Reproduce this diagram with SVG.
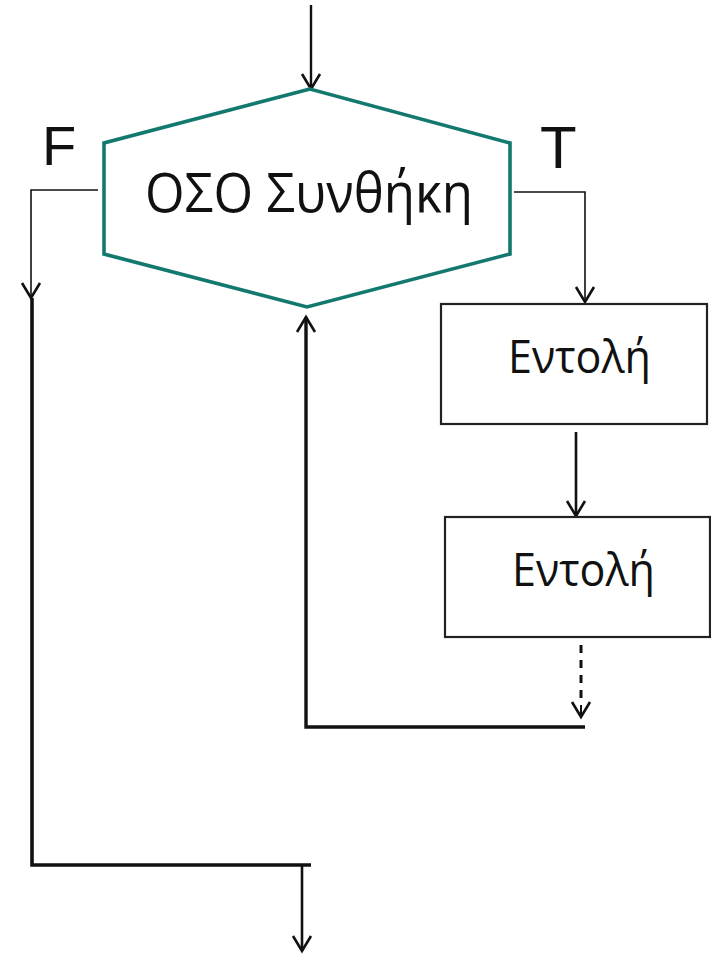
<svg xmlns="http://www.w3.org/2000/svg" width="711" height="954" viewBox="0 0 711 954">
<style>
.conn{fill:none;stroke:#111;stroke-linecap:butt;stroke-linejoin:miter}
.box{fill:#fff;stroke:#222;stroke-width:2.2}
.hex{fill:#fff;stroke:#13796f;stroke-width:3.6}
.lbl{font-family:"Open Sans","Noto Sans","DejaVu Sans",sans-serif;fill:#111}
.tf{font-family:"Liberation Sans",Arial,sans-serif;fill:#111}
</style>
<defs>
<marker id="arr" markerUnits="userSpaceOnUse" markerWidth="30" markerHeight="30" refX="0" refY="0" viewBox="-20 -15 30 30" orient="auto" overflow="visible">
<path d="M-15,-9 L0,0 L-15,9" fill="none" stroke="#111" stroke-width="2.6"/>
</marker>
</defs>
<rect width="711" height="954" fill="#fff"/>
<g id="connectors">
<path class="conn" d="M311,5 L311,89" stroke-width="2.4" marker-end="url(#arr)"/>
<path class="conn" d="M514,192 L585,192 L585,302" stroke-width="1.6" marker-end="url(#arr)"/>
<path class="conn" d="M98,190 L31,190 L31,298" stroke-width="1.6" marker-end="url(#arr)"/>
<path class="conn" d="M32,298 L32,865 L311,865" stroke-width="3.6"/>
<path class="conn" d="M302,865 L302,951" stroke-width="2.6" marker-end="url(#arr)"/>
<path class="conn" d="M576,432 L576,516" stroke-width="2.6" marker-end="url(#arr)"/>
<path class="conn" d="M581,645 L581,705" stroke-width="3" stroke-dasharray="8 7"/>
<path class="conn" d="M581,705 L581,717" stroke-width="2" marker-end="url(#arr)"/>
<path class="conn" d="M585,727 L306,727 L306,317" stroke-width="3.4" marker-end="url(#arr)"/>
</g>
<g id="decision">
<polygon class="hex" points="310,89 104,143 104,254 307,307 510,254 510,143"/>
<text class="lbl" x="309" y="212" font-size="55" text-anchor="middle" textLength="328" lengthAdjust="spacingAndGlyphs">ΟΣΟ Συνθήκη</text>
</g>
<g id="label-f"><text class="tf" x="42" y="165" font-size="56">F</text></g>
<g id="label-t"><text class="tf" x="540" y="168" font-size="60">T</text></g>
<g id="statement1">
<rect class="box" x="441" y="304" width="266" height="120"/>
<text class="lbl" x="579.5" y="373" font-size="46" text-anchor="middle" textLength="143" lengthAdjust="spacingAndGlyphs">Εντολή</text>
</g>
<g id="statement2">
<rect class="box" x="445" y="517" width="265" height="120"/>
<text class="lbl" x="583.5" y="586" font-size="46" text-anchor="middle" textLength="143" lengthAdjust="spacingAndGlyphs">Εντολή</text>
</g>
</svg>
